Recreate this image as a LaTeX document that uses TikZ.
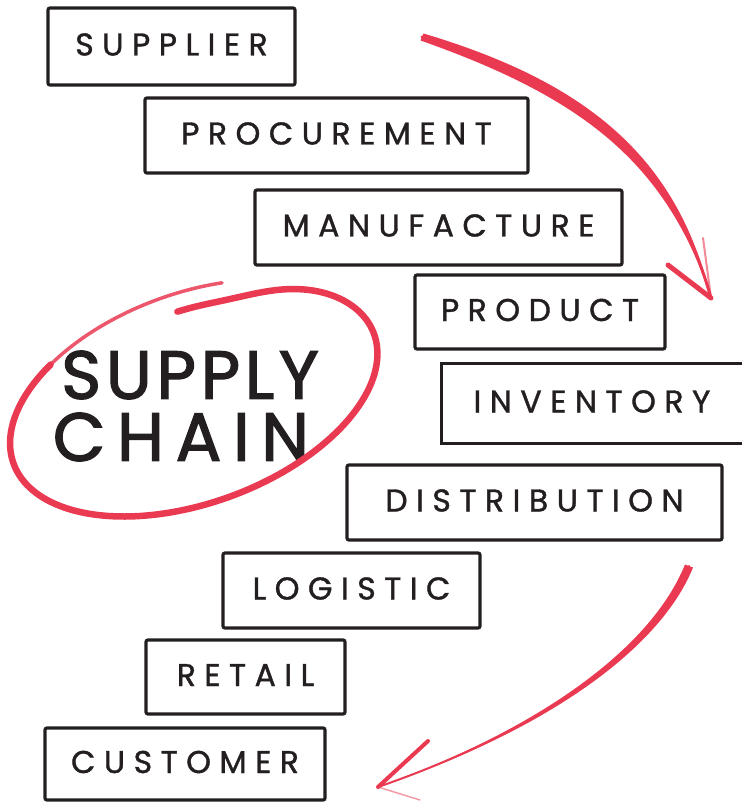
\documentclass[tikz,border=0pt]{standalone}
\usepackage{fontspec}
\newfontfamily\boxfont{Poppins}[LetterSpace=27,FakeBold=1.2]
\newfontfamily\bigfont{Poppins}[LetterSpace=7,FakeBold=2]
\newfontfamily\bigfontwide{Poppins}[LetterSpace=17,FakeBold=2]
\definecolor{ink}{RGB}{35,31,32}
\definecolor{redmark}{RGB}{233,58,82}
\begin{document}
\begin{tikzpicture}[x=1pt,y=-1pt,
  declare function={rr(\t)=1.0-0.17/(1+((\t+85)/35)^4);},
  lbl/.style={draw=ink, line width=3.2pt, rounded corners=2pt, inner sep=0pt,
    text height=18pt, text depth=0pt, text=ink,
    font=\boxfont\fontsize{31.5}{32}\selectfont},
  boxline/.style={draw=ink, line width=3.2pt},
  redline/.style={draw=redmark, line cap=round, line join=round}]
\useasboundingbox (0,0) rectangle (741,802);

% boxes
\node[lbl, minimum width=247pt, minimum height=77pt] (sup) at (171.5,46.5) {SUPPLIER};
\node[lbl, minimum width=383pt, minimum height=75pt] (pro) at (336.5,135.5) {PROCUREMENT};
\node[lbl, minimum width=367pt, minimum height=75pt] (man) at (438.5,227.5) {MANUFACTURE};
\node[lbl, minimum width=250pt, minimum height=74pt] (prd) at (540,312) {PRODUCT};
\node[lbl, draw=none, minimum width=298pt, minimum height=77pt] (inv) at (592,403.5) {INVENTORY};
\draw[boxline] (inv.north east) -- (inv.north west) -- (inv.south west) -- (inv.south east);
\node[lbl, minimum width=375pt, minimum height=75pt] (dis) at (534.5,502.5) {DISTRIBUTION};
\node[lbl, minimum width=257pt, minimum height=75pt] (log) at (351.5,590.5) {LOGISTIC};
\node[lbl, minimum width=199pt, minimum height=74pt] (ret) at (245.5,677) {RETAIL};
\node[lbl, minimum width=280pt, minimum height=72pt] (cus) at (185,764) {CUSTOMER};

% central title
\node[inner sep=0pt, text=ink, align=center, font=\fontsize{68}{62}\selectfont] (title) at (190,406) {\bigfont SUPPLY\\\hspace*{-18pt}\bigfontwide CHAIN};

% loop around title
\draw[redline, line width=6.5pt] plot[domain=-85:230, samples=150, smooth]
  ({194 + rr(\x)*192*cos(\x)*cos(-20) - rr(\x)*105*sin(\x)*sin(-20)},
   {398 + rr(\x)*192*cos(\x)*sin(-20) + rr(\x)*105*sin(\x)*cos(-20)});
\draw[redline, line width=3.5pt, opacity=.85] plot[domain=225:290, samples=40, smooth]
  ({194 + rr(\x)*192*cos(\x)*cos(-20) - rr(\x)*105*sin(\x)*sin(-20)},
   {398 + rr(\x)*192*cos(\x)*sin(-20) + rr(\x)*105*sin(\x)*cos(-20)});

% top arrow
\coordinate (a1s) at (422,37);
\coordinate (a1t) at (711,298);
\coordinate (a1b) at (668,265);
\coordinate (a1c) at (703,238);
\fill[redmark] (423.5,33.5) .. controls (587.5,82.5) and (677.5,157.5) .. (a1t)
  .. controls (666.5,162.5) and (582.5,97.5) .. (420.5,40.5) -- cycle;
\draw[redline, line width=3pt] (a1s) .. controls (585,90) and (672,160) .. (a1t);
\draw[redline, line width=5pt] (a1b) -- (a1t);
\draw[redline, line width=2pt, opacity=.6] (a1c) -- (a1t);

% bottom arrow
\coordinate (a2s) at (689,566);
\coordinate (a2t) at (378,787);
\coordinate (a2b) at (428,741);
\coordinate (a2c) at (420,800);
\fill[redmark] (693,567.5) .. controls (659,651.5) and (540.7,732.9) .. (a2t)
  .. controls (539.3,729.1) and (651,648.5) .. (685,564.5) -- cycle;
\draw[redline, line width=2pt] (a2s) .. controls (655,650) and (540,731) .. (a2t);
\draw[redline, line width=4pt] (a2b) -- (a2t);
\draw[redline, line width=1.5pt, opacity=.5] (a2c) -- (a2t);
\end{tikzpicture}
\end{document}
